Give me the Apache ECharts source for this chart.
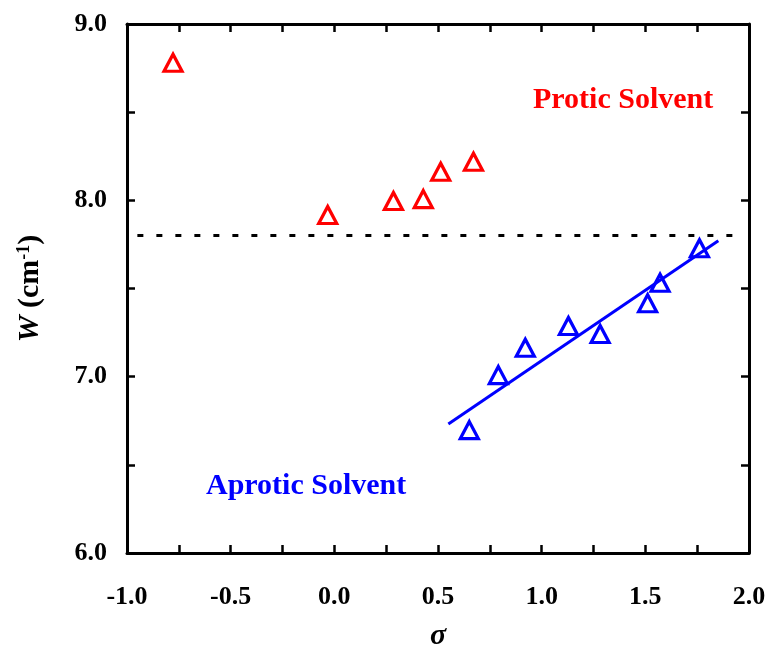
<!DOCTYPE html>
<html>
<head>
<meta charset="utf-8">
<script src="https://cdn.jsdelivr.net/npm/echarts@6/dist/echarts.min.js"></script>
<style>html,body{margin:0;padding:0;background:#fff;}#c{width:769px;height:648px;}</style>
</head>
<body>
<div id="c"></div>
<script>
// Protic solvents (red)
var proticSigma = [-0.778, -0.032, 0.285, 0.429, 0.513, 0.671];
var proticW     = [8.78, 7.917, 7.996, 8.007, 8.162, 8.219];
// Aprotic solvents (blue)
var aproticSigma = [0.651, 0.791, 0.921, 1.129, 1.282, 1.511, 1.571, 1.761];
var aproticW     = [6.697, 7.009, 7.164, 7.287, 7.242, 7.416, 7.533, 7.728];
// Linear fit (endpoints)
var fitSigma = [0.55, 1.852];
var fitW     = [6.731, 7.771];
// Horizontal dashed reference
var refSigma = [-0.95, 1.94];
var refW     = [7.8, 7.8];
// Axis ticks
var xTicks = ['-1.0', '-0.5', '0.0', '0.5', '1.0', '1.5', '2.0'];
var yTicks = ['6.0', '7.0', '8.0', '9.0'];

function pairs(a, b) { return a.map(function (v, i) { return [v, b[i]]; }); }

var FONT = 'Liberation Serif, Times New Roman, serif';
var axisCommon = {
  axisLine: { show: true, onZero: false, lineStyle: { color: '#000', width: 3 } },
  axisTick: { show: true, inside: true, length: 8, lineStyle: { color: '#000', width: 2.5 } },
  minorTick: { show: true, splitNumber: 2, length: 8, lineStyle: { color: '#000', width: 2.5 } },
  splitLine: { show: false }
};

var chart = echarts.init(document.getElementById('c'), null, { renderer: 'canvas' });
var opt = {
  animation: false,
  backgroundColor: '#fff',
  grid: { left: 127, right: 20, top: 24, bottom: 95, containLabel: false, outerBoundsMode: 'none' },
  xAxis: [
    Object.assign({
      type: 'value', min: -1, max: 2, interval: 0.5, position: 'bottom',
      name: 'σ', nameLocation: 'middle', nameGap: 68,
      nameTextStyle: { fontFamily: FONT, fontStyle: 'italic', fontWeight: 'bold', fontSize: 30, color: '#000' },
      axisLabel: { margin: 31, fontFamily: FONT, fontWeight: 'bold', fontSize: 26, color: '#000',
        formatter: function (v) { return xTicks[Math.round((v + 1) / 0.5)]; } }
    }, axisCommon),
    Object.assign({
      type: 'value', min: -1, max: 2, interval: 0.5, position: 'top',
      axisLabel: { show: false }
    }, axisCommon)
  ],
  yAxis: [
    Object.assign({
      type: 'value', min: 6, max: 9, interval: 1, position: 'left',
      name: '{i|W} (cm{s|-1})', nameLocation: 'middle', nameGap: 82, nameRotate: 90,
      nameTextStyle: { fontFamily: FONT, fontWeight: 'bold', fontSize: 30, color: '#000',
        rich: {
          i: { fontFamily: FONT, fontWeight: 'bold', fontStyle: 'italic', fontSize: 30, color: '#000' },
          s: { fontFamily: FONT, fontWeight: 'bold', fontSize: 18, color: '#000', verticalAlign: 'top', padding: [0, 0, 12, 0] }
        } },
      axisLabel: { margin: 20, fontFamily: FONT, fontWeight: 'bold', fontSize: 26, color: '#000',
        formatter: function (v) { return yTicks[Math.round(v - 6)]; } }
    }, axisCommon),
    Object.assign({
      type: 'value', min: 6, max: 9, interval: 1, position: 'right',
      axisLabel: { show: false }
    }, axisCommon)
  ],
  series: [
    {
      type: 'line', data: pairs(refSigma, refW), symbol: 'none', silent: true,
      lineStyle: { color: '#000', width: 3, type: [6, 13] }
    },
    {
      type: 'line', data: pairs(fitSigma, fitW), symbol: 'none', silent: true,
      lineStyle: { color: '#0000ff', width: 3 }
    },
    {
      type: 'scatter', data: pairs(proticSigma, proticW), symbol: 'triangle', symbolSize: [18, 17],
      itemStyle: { color: 'rgba(0,0,0,0)', borderColor: '#ff0000', borderWidth: 3.2, opacity: 1 }
    },
    {
      type: 'scatter', data: pairs(aproticSigma, aproticW), symbol: 'triangle', symbolSize: [18, 17],
      itemStyle: { color: 'rgba(0,0,0,0)', borderColor: '#0000ff', borderWidth: 3.2, opacity: 1 }
    }
  ],
  graphic: [
    { type: 'text', x: 533, y: 100, style: { text: 'Protic Solvent', fill: '#ff0000',
      font: 'bold 30px ' + FONT, textAlign: 'left', textVerticalAlign: 'middle' } },
    { type: 'text', x: 206, y: 486, style: { text: 'Aprotic Solvent', fill: '#0000ff',
      font: 'bold 30px ' + FONT, textAlign: 'left', textVerticalAlign: 'middle' } }
  ]
};
chart.setOption(opt);
</script>
</body>
</html>
